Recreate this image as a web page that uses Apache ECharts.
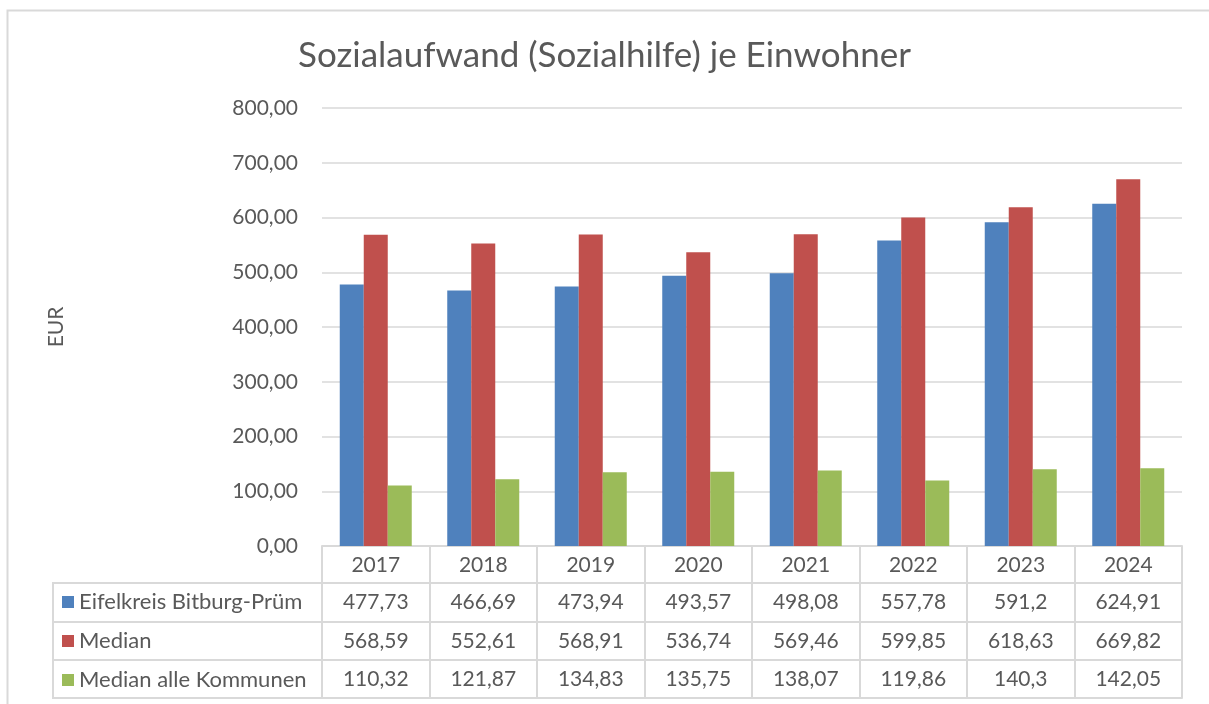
<!DOCTYPE html>
<html>
<head>
<meta charset="utf-8">
<title>Sozialaufwand je Einwohner</title>
<script src="https://cdn.jsdelivr.net/npm/echarts@6/dist/echarts.min.js"></script>
<style>
  html, body { margin: 0; padding: 0; background: #fff; }
  #chart { width: 1209px; height: 704px; }
</style>
</head>
<body>
<div id="chart"></div>
<script>
// Daten
const years = ['2017', '2018', '2019', '2020', '2021', '2022', '2023', '2024'];
const eifelkreis = [477.73, 466.69, 473.94, 493.57, 498.08, 557.78, 591.2, 624.91];
const median = [568.59, 552.61, 568.91, 536.74, 569.46, 599.85, 618.63, 669.82];
const medianAlle = [110.32, 121.87, 134.83, 135.75, 138.07, 119.86, 140.3, 142.05];
const seriesNames = ['Eifelkreis Bitburg-Prüm', 'Median', 'Median alle Kommunen'];
const colors = ['#4f81bd', '#c0504d', '#9bbb59'];

const font = 'Lato';
const grey = '#595959';
const lineGrey = '#d9d9d9';

// Zahl mit Komma statt Punkt
const fmt = (v) => String(v).replace('.', ',');

// Zeilen der Datentabelle als eigene x-Achsen
const tableAxis = (data, offset, tickLen, showLabel) => ({
  type: 'category',
  gridIndex: 0,
  position: 'bottom',
  offset: offset,
  data: data,
  axisLine: { show: true, lineStyle: { color: lineGrey, width: 2 } },
  axisTick: { show: tickLen > 0, interval: 0, length: tickLen, lineStyle: { color: lineGrey, width: 2 } },
  axisLabel: { show: showLabel, interval: 0, margin: 9, color: grey, fontSize: 21, fontFamily: font },
  splitLine: { show: false }
});

const chart = echarts.init(document.getElementById('chart'));
chart.setOption({
  animation: false,
  color: colors,
  textStyle: { fontFamily: font },
  title: {
    text: 'Sozialaufwand (Sozialhilfe) je Einwohner',
    left: 'center',
    top: 33,
    textStyle: { color: grey, fontSize: 35, fontWeight: 'normal', fontFamily: font }
  },
  legend: {
    orient: 'vertical',
    left: 57,
    top: 586,
    itemWidth: 12,
    itemHeight: 12,
    itemGap: 17,
    icon: 'rect',
    selectedMode: false,
    data: seriesNames,
    textStyle: { color: grey, fontSize: 22, lineHeight: 22, fontFamily: font }
  },
  grid: { left: 322, right: 27, top: 108, bottom: 158 },
  xAxis: [
    tableAxis(years, 0, 37, true),
    tableAxis(eifelkreis.map(fmt), 37, 39, true),
    tableAxis(median.map(fmt), 76, 38, true),
    tableAxis(medianAlle.map(fmt), 114, 38, true),
    tableAxis(years, 152, 0, false)
  ],
  yAxis: {
    type: 'value',
    min: 0,
    max: 800,
    interval: 100,
    name: 'EUR',
    nameLocation: 'middle',
    nameRotate: 90,
    nameGap: 255,
    nameTextStyle: { color: grey, fontSize: 21, fontFamily: font },
    axisLine: { show: false },
    axisTick: { show: false },
    axisLabel: {
      margin: 24,
      color: grey,
      fontSize: 21,
      fontFamily: font,
      formatter: (v) => v.toFixed(2).replace('.', ',')
    },
    splitLine: { lineStyle: { color: lineGrey, width: 1.5 } }
  },
  series: [
    { name: seriesNames[0], type: 'bar', data: eifelkreis, barWidth: 24, barGap: '0%' },
    { name: seriesNames[1], type: 'bar', data: median, barWidth: 24, barGap: '0%' },
    { name: seriesNames[2], type: 'bar', data: medianAlle, barWidth: 24, barGap: '0%' }
  ],
  graphic: [
    // Rahmen des Diagramms
    { type: 'rect', shape: { x: 7.5, y: 10.5, width: 1400, height: 900 }, style: { fill: 'none', stroke: lineGrey, lineWidth: 2 }, silent: true },
    // linke Spalte der Tabelle
    { type: 'rect', shape: { x: 53, y: 583, width: 269, height: 115 }, style: { fill: 'none', stroke: lineGrey, lineWidth: 2 }, silent: true },
    { type: 'line', shape: { x1: 53, y1: 622, x2: 322, y2: 622 }, style: { stroke: lineGrey, lineWidth: 2 }, silent: true },
    { type: 'line', shape: { x1: 53, y1: 660, x2: 322, y2: 660 }, style: { stroke: lineGrey, lineWidth: 2 }, silent: true }
  ]
});
</script>
</body>
</html>
